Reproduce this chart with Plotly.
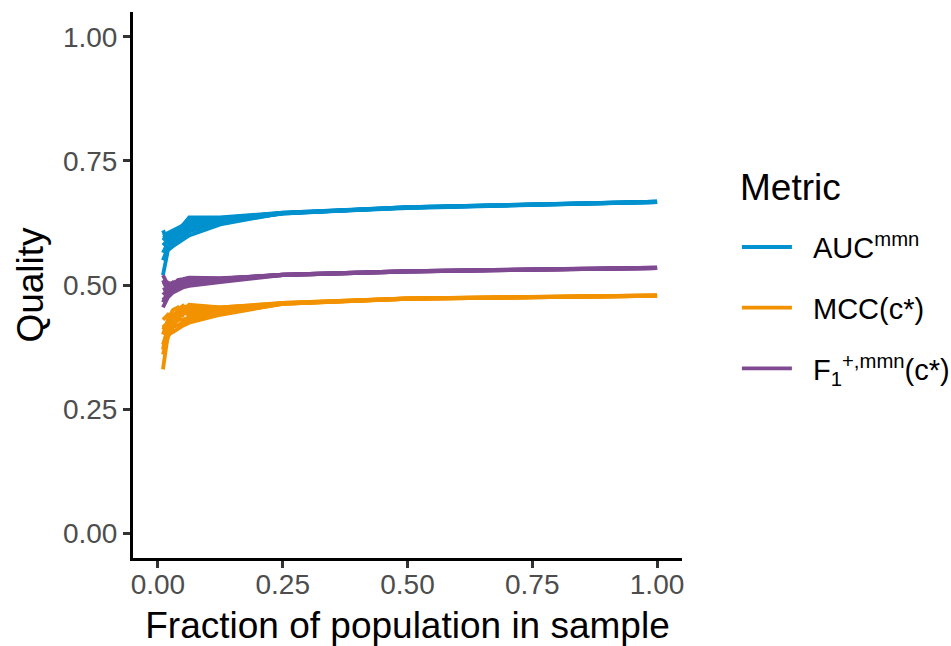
import plotly.graph_objects as go

fractions = [0.01, 0.02, 0.03, 0.04, 0.05, 0.0625, 0.125, 0.25, 0.5, 1.0]

auc_reps = [
    [0.600, 0.605, 0.610, 0.615, 0.620, 0.636, 0.636, 0.646, 0.657, 0.668],
    [0.580, 0.590, 0.600, 0.605, 0.610, 0.628, 0.633, 0.645, 0.656, 0.667],
    [0.550, 0.575, 0.585, 0.590, 0.598, 0.608, 0.626, 0.644, 0.656, 0.668],
    [0.520, 0.570, 0.578, 0.585, 0.590, 0.600, 0.622, 0.645, 0.657, 0.667],
    [0.590, 0.600, 0.595, 0.600, 0.605, 0.625, 0.632, 0.646, 0.656, 0.668],
    [0.610, 0.590, 0.600, 0.610, 0.622, 0.634, 0.635, 0.645, 0.655, 0.667],
    [0.565, 0.585, 0.590, 0.595, 0.600, 0.615, 0.630, 0.644, 0.657, 0.668],
    [0.600, 0.595, 0.605, 0.610, 0.605, 0.620, 0.631, 0.645, 0.656, 0.667],
]

mcc_reps = [
    [0.330, 0.400, 0.405, 0.412, 0.418, 0.424, 0.440, 0.462, 0.472, 0.478],
    [0.370, 0.420, 0.440, 0.430, 0.445, 0.440, 0.450, 0.464, 0.473, 0.479],
    [0.400, 0.430, 0.450, 0.455, 0.440, 0.460, 0.455, 0.463, 0.472, 0.478],
    [0.420, 0.410, 0.435, 0.450, 0.458, 0.445, 0.452, 0.462, 0.473, 0.478],
    [0.380, 0.410, 0.420, 0.430, 0.430, 0.435, 0.448, 0.463, 0.472, 0.479],
    [0.430, 0.440, 0.430, 0.445, 0.455, 0.458, 0.455, 0.464, 0.473, 0.478],
    [0.360, 0.395, 0.415, 0.420, 0.425, 0.430, 0.442, 0.462, 0.472, 0.478],
    [0.410, 0.425, 0.440, 0.440, 0.450, 0.450, 0.453, 0.463, 0.473, 0.479],
]

f1_reps = [
    [0.455, 0.475, 0.485, 0.490, 0.495, 0.498, 0.506, 0.520, 0.527, 0.534],
    [0.520, 0.500, 0.505, 0.508, 0.510, 0.512, 0.513, 0.521, 0.528, 0.535],
    [0.480, 0.490, 0.500, 0.505, 0.505, 0.510, 0.512, 0.520, 0.527, 0.534],
    [0.470, 0.480, 0.490, 0.495, 0.500, 0.505, 0.510, 0.521, 0.528, 0.534],
    [0.500, 0.505, 0.500, 0.510, 0.512, 0.515, 0.514, 0.520, 0.527, 0.535],
    [0.490, 0.495, 0.505, 0.500, 0.508, 0.510, 0.511, 0.521, 0.528, 0.534],
    [0.465, 0.485, 0.495, 0.500, 0.505, 0.508, 0.510, 0.520, 0.527, 0.534],
    [0.510, 0.490, 0.500, 0.505, 0.510, 0.514, 0.513, 0.521, 0.528, 0.535],
]

metric_names = ["\u00a0\u00a0AUC<sup>mmn</sup>", "\u00a0\u00a0MCC(c*)",
                "\u00a0\u00a0F<sub>1</sub><sup>+,mmn</sup>(c*)"]
metric_colors = ["#0091CE", "#F39200", "#7F4A91"]
metric_data = [auc_reps, mcc_reps, f1_reps]

tick_vals = [0.0, 0.25, 0.5, 0.75, 1.0]
tick_text = ["0.00", "0.25", "0.50", "0.75", "1.00"]

FONT = "Liberation Sans, Arial, sans-serif"

fig = go.Figure()
for name, color, reps in zip(metric_names, metric_colors, metric_data):
    for i, ys in enumerate(reps):
        fig.add_trace(go.Scatter(
            x=fractions, y=ys, mode="lines", name=name,
            line=dict(color=color, width=3.8),
            legendgroup=name, showlegend=(i == 0),
        ))

axis_common = dict(
    showgrid=False, zeroline=False, showline=True, linecolor="black", linewidth=3,
    ticks="outside", ticklen=7, tickwidth=2.5, tickcolor="#333333",
    tickfont=dict(size=28, color="#4D4D4D", family=FONT),
    tickvals=tick_vals, ticktext=tick_text, automargin=False,
)

fig.update_layout(
    width=951, height=646,
    margin=dict(l=133, r=269, t=12, b=88, autoexpand=False),
    plot_bgcolor="white", paper_bgcolor="white",
    font=dict(family=FONT, color="black"),
    xaxis=dict(range=[-0.05, 1.05], title=dict(text="Fraction of population in sample",
               font=dict(size=37, color="black"), standoff=14),
               ticklabelstandoff=-8, **axis_common),
    yaxis=dict(range=[-0.05, 1.05], title=dict(text="Quality",
               font=dict(size=37, color="black"), standoff=8), **axis_common),
    legend=dict(
        x=1.1, xanchor="left", y=0.616, yanchor="top",
        font=dict(size=29, color="black"),
        traceorder="grouped", tracegroupgap=20,
        itemwidth=50,
    ),
    annotations=[dict(
        text="Metric", xref="paper", yref="paper", x=1.102, y=0.678,
        xanchor="left", yanchor="middle", showarrow=False,
        font=dict(size=37, color="black", family=FONT),
    )],
)

fig.write_html("out.html")
